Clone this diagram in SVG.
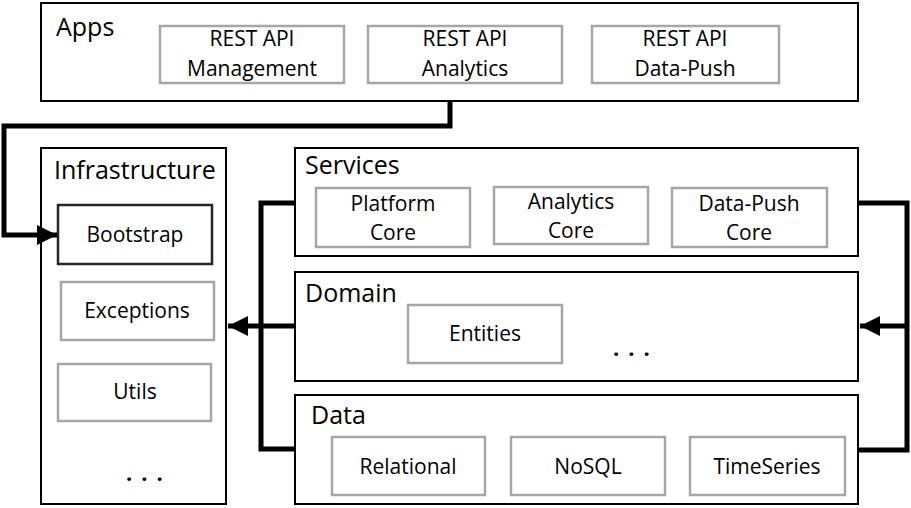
<svg xmlns="http://www.w3.org/2000/svg" width="911" height="508" viewBox="0 0 911 508">
<defs>
<style>
.layer{fill:#fff;stroke:#000;stroke-width:2}
.box{fill:#fff;stroke:#a6a6a6;stroke-width:2.5}
.dark{fill:#fff;stroke:#262626;stroke-width:2.5}
.title{font-family:"Open Sans","Noto Sans",sans-serif;font-size:25px;fill:#000}
.lbl{font-family:"Open Sans","Noto Sans",sans-serif;font-size:21px;fill:#000;text-anchor:middle}
.dots{font-family:"Open Sans","Noto Sans",sans-serif;font-size:22px;font-weight:bold;fill:#000;letter-spacing:9px}
.conn{fill:none;stroke:#000;stroke-width:5}
</style>
<marker id="ah" viewBox="0 0 10 10" refX="10" refY="5" markerWidth="4" markerHeight="4" markerUnits="strokeWidth" orient="auto">
<path d="M0,0 L10,5 L0,10 z" fill="#000"/>
</marker>
</defs>
<rect width="911" height="508" fill="#fff"/>
<g id="apps">
<rect class="layer" x="41" y="3" width="817" height="98"/>
<text class="title" x="56" y="36">Apps</text>
<g id="rest-mgmt"><rect class="box" x="160" y="26" width="184" height="57"/><text class="lbl" x="252" y="46">REST API</text><text class="lbl" x="252" y="76">Management</text></g>
<g id="rest-analytics"><rect class="box" x="368" y="26" width="194" height="57"/><text class="lbl" x="465" y="46">REST API</text><text class="lbl" x="465" y="76">Analytics</text></g>
<g id="rest-datapush"><rect class="box" x="592" y="26" width="187" height="57"/><text class="lbl" x="685" y="46">REST API</text><text class="lbl" x="685" y="76">Data-Push</text></g>
</g>
<g id="infrastructure">
<rect class="layer" x="41" y="148" width="185" height="356"/>
<text class="title" x="54" y="179">Infrastructure</text>
<g id="bootstrap"><rect class="dark" x="58" y="205" width="154" height="59"/><text class="lbl" x="135" y="242">Bootstrap</text></g>
<g id="exceptions"><rect class="box" x="61" y="282" width="153" height="58"/><text class="lbl" x="137" y="318">Exceptions</text></g>
<g id="utils"><rect class="box" x="58" y="364" width="153" height="57"/><text class="lbl" x="135" y="399">Utils</text></g>
<text class="dots" x="126" y="481">...</text>
</g>
<g id="services">
<rect class="layer" x="295" y="148" width="563" height="108"/>
<text class="title" x="305" y="174">Services</text>
<g id="platform-core"><rect class="box" x="316" y="188" width="154" height="59"/><text class="lbl" x="393" y="211">Platform</text><text class="lbl" x="393" y="240">Core</text></g>
<g id="analytics-core"><rect class="box" x="494" y="187" width="154" height="57"/><text class="lbl" x="571" y="209">Analytics</text><text class="lbl" x="571" y="238">Core</text></g>
<g id="datapush-core"><rect class="box" x="672" y="188" width="155" height="59"/><text class="lbl" x="749" y="211">Data-Push</text><text class="lbl" x="749" y="240">Core</text></g>
</g>
<g id="domain">
<rect class="layer" x="295" y="272" width="563" height="109"/>
<text class="title" x="305" y="302">Domain</text>
<g id="entities"><rect class="box" x="408" y="305" width="154" height="58"/><text class="lbl" x="485" y="341">Entities</text></g>
<text class="dots" x="613" y="356">...</text>
</g>
<g id="data">
<rect class="layer" x="295" y="395" width="563" height="109"/>
<text class="title" x="311" y="424">Data</text>
<g id="relational"><rect class="box" x="332" y="437" width="153" height="58"/><text class="lbl" x="408" y="474">Relational</text></g>
<g id="nosql"><rect class="box" x="511" y="437" width="154" height="58"/><text class="lbl" x="588" y="474">NoSQL</text></g>
<g id="timeseries"><rect class="box" x="690" y="437" width="155" height="58"/><text class="lbl" x="767" y="474">TimeSeries</text></g>
</g>
<g id="connectors">
<path class="conn" d="M450,101 V126 H4 V235 H57" marker-end="url(#ah)"/>
<path class="conn" d="M295,203 H261 V449 H295"/>
<path class="conn" d="M295,326 H228" marker-end="url(#ah)"/>
<path class="conn" d="M858,203 H907 V450 H858"/>
<path class="conn" d="M909,326 H860" marker-end="url(#ah)"/>
</g>
</svg>
